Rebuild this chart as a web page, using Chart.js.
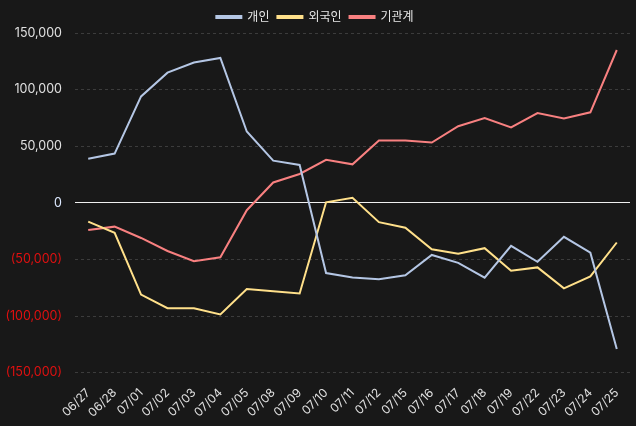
<!DOCTYPE html>
<html>
<head>
<meta charset="utf-8">
<script src="https://cdn.jsdelivr.net/npm/chart.js@4"></script>
<style>
  html, body { margin: 0; padding: 0; background: #181818; }
  #wrap { width: 636px; height: 426px; }
</style>
</head>
<body>
<div id="wrap"><canvas id="flowChart"></canvas></div>
<script>
const dates = ['06/27', '06/28', '07/01', '07/02', '07/03', '07/04', '07/05', '07/08', '07/09', '07/10', '07/11',
    '07/12', '07/15', '07/16', '07/17', '07/18', '07/19', '07/22', '07/23', '07/24', '07/25'];
const individual = [39000, 43500, 94000, 115000, 124000, 128000, 63000, 37300, 33500, -62000, -66000,
    -67500, -64000, -46000, -53000, -66000, -38000, -52000, -30000, -44000, -129000];
const foreign = [-16500, -26500, -81000, -93000, -93000, -98500, -76000, -78000, -80000, 500, 4500,
    -17000, -22000, -41000, -45000, -40000, -60000, -57000, -75500, -65000, -35000];
const institution = [-24000, -21000, -31000, -42500, -51500, -48000, -6500, 18000, 25500, 38000, 34000,
    55000, 55000, 53300, 67700, 74900, 66600, 79300, 74600, 80000, 135000];
const yTicks = [-150000, -100000, -50000, 0, 50000, 100000, 150000];

const FONT = "Inter, 'Noto Sans CJK KR', sans-serif";

// Helper: number with commas, negatives in parentheses
function fmt(v) {
    const s = Math.abs(v).toLocaleString('en-US');
    return v < 0 ? `(${s})` : s;
}

function series(label, data, color) {
    return { label, data, borderColor: color, backgroundColor: color, borderWidth: 2, pointRadius: 0, tension: 0 };
}

new Chart(document.getElementById('flowChart'), {
    type: 'line',
    data: {
        labels: dates,
        datasets: [
            series('개인', individual, '#b4c6e4'),
            series('외국인', foreign, '#ffe08a'),
            series('기관계', institution, '#f88080')
        ]
    },
    options: {
        responsive: true,
        maintainAspectRatio: false,
        animation: false,
        layout: { padding: { left: 0, right: 6, top: 3, bottom: 1 } },
        plugins: {
            legend: {
                position: 'top',
                labels: { color: '#e8e8e8', font: { family: FONT, size: 12 }, boxWidth: 25, boxHeight: 2, padding: 8 }
            },
            tooltip: { enabled: false }
        },
        scales: {
            x: {
                offset: true,
                grid: { display: false },
                border: { display: false },
                ticks: { color: '#e0e0e0', padding: 5, font: { family: FONT, size: 12 }, maxRotation: 45, minRotation: 45, autoSkip: false }
            },
            y: {
                min: -150000,
                max: 150000,
                afterBuildTicks: axis => { axis.ticks = yTicks.map(v => ({ value: v })); },
                afterFit: axis => { axis.width = 75; },
                grid: {
                    color: ctx => ctx.tick && ctx.tick.value === 0 ? '#f0f0f0' : '#3c3c3c',
                    lineWidth: 1,
                    drawTicks: false
                },
                border: {
                    display: false,
                    dash: ctx => ctx.tick && ctx.tick.value === 0 ? [] : [3, 3]
                },
                ticks: {
                    padding: 13,
                    font: { family: FONT, size: 12.5 },
                    color: ctx => ctx.tick.value < 0 ? '#e01010' : (ctx.tick.value === 0 ? '#dce8ff' : '#e0e0e0'),
                    callback: v => fmt(v)
                }
            }
        }
    }
});
</script>
</body>
</html>
